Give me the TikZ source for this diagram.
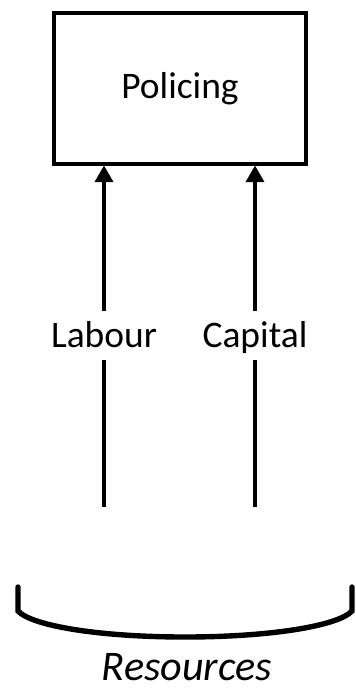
\documentclass[tikz,border=0pt]{standalone}
\usepackage{fontspec}
\setmainfont{Carlito}
\usetikzlibrary{arrows.meta}

\tikzset{
  inputlbl/.style={inner xsep=2pt, inner ysep=0pt, text height=1.02cm, text depth=0.33cm, anchor=base}
}

\begin{document}
\begin{tikzpicture}[x=0.03cm, y=-0.03cm, >={Triangle[length=0.5cm, width=0.55cm]}, line width=2.6pt,
    font=\fontsize{32}{38}\selectfont]
  \useasboundingbox (0,0) rectangle (355,692);

  % the policing box
  \node[draw, minimum width=252*0.03cm, minimum height=151*0.03cm, inner sep=0pt] (police) at (180,88.5) {Policing};

  % feet of the two inputs
  \coordinate (lab) at (104,507);
  \coordinate (cap) at (255,507);

  % labels sit in a gap of each line
  \node[inputlbl] (labtxt) at (104,347) {Labour};
  \node[inputlbl] (captxt) at (255,347) {Capital};

  % labour and capital go up into the box
  \draw (lab) -- (labtxt.south);
  \draw[->] (labtxt.north) -- (labtxt.north |- police.south);
  \draw (cap) -- (captxt.south);
  \draw[->] (captxt.north) -- (captxt.north |- police.south);

  % bracket holding the resources
  \draw[line width=4.6pt, line cap=round] (18,587) -- (18,611)
        .. controls (32,626) and (100,637) .. (185,637)
        .. controls (270,637) and (338,626) .. (352,611) -- (352,587);
  \node[anchor=base, inner sep=0pt, font=\fontsize{36}{43}\selectfont\itshape] (res) at (187,680) {Resources};
\end{tikzpicture}
\end{document}
